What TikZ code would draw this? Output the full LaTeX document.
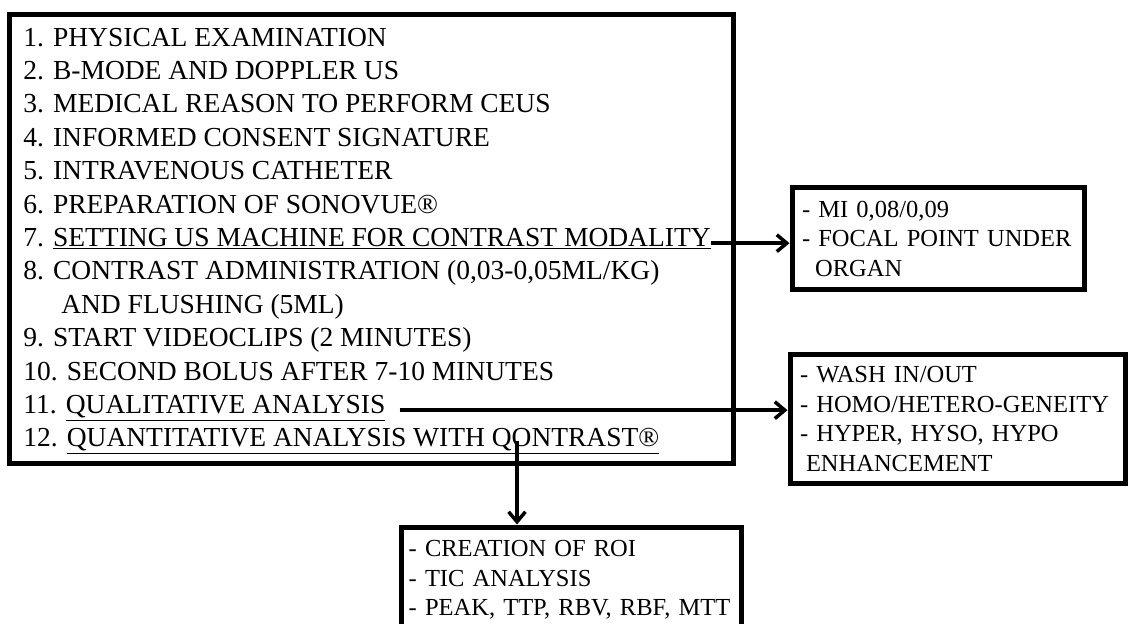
\documentclass[tikz,border=0pt]{standalone}
\usepackage{fontspec}
\setmainfont{Liberation Serif}
\usetikzlibrary{arrows.meta}
\tikzset{
  stepline/.style={anchor=base west, inner sep=0pt, font=\fontsize{19.56}{23.76}\selectfont},
  stepframe/.style={draw, rectangle, line width=0.125cm, inner sep=0pt},
  infobox/.style={draw, rectangle, line width=0.125cm, inner xsep=0.25cm, inner ysep=0.1cm,
    align=left, font=\fontsize{17.43}{20.98}\selectfont},
  steparrow/.style={-{Straight Barb[length=0.25cm, width=0.42cm]}, line width=0.0875cm},
}

\begin{document}
\begin{tikzpicture}
  \path[use as bounding box, clip] (0,0) rectangle (28.25,-15.575);

  \node[stepframe, minimum width=18.1cm, minimum height=11.225cm] (steps) at (9.2875,-5.98) {};

  \node[stepline] (l1) at (0.575,-1.15) {1. PHYSICAL EXAMINATION};
  \node[stepline] (l2) at (0.575,-1.985) {2. B-MODE AND DOPPLER US};
  \node[stepline] (l3) at (0.575,-2.82) {3. MEDICAL REASON TO PERFORM CEUS};
  \node[stepline] (l4) at (0.575,-3.655) {4. INFORMED CONSENT SIGNATURE};
  \node[stepline] (l5) at (0.575,-4.49) {5. INTRAVENOUS CATHETER};
  \node[stepline] (l6) at (0.575,-5.325) {6. PREPARATION OF SONOVUE®};
  \node[stepline] (l7) at (0.575,-6.16) {7. \underline{SETTING US MACHINE FOR CONTRAST MODALITY}};
  \node[stepline] (l8) at (0.575,-6.995) {8. CONTRAST ADMINISTRATION (0,03-0,05ML/KG)};
  \node[stepline] (l8b) at (1.525,-7.83) {AND FLUSHING (5ML)};
  \node[stepline] (l9) at (0.575,-8.665) {9. START VIDEOCLIPS (2 MINUTES)};
  \node[stepline] (l10) at (0.575,-9.5) {10. SECOND BOLUS AFTER 7-10 MINUTES};
  \node[stepline] (l11) at (0.575,-10.335) {11. \underline{QUALITATIVE ANALYSIS}};
  \node[stepline] (l12) at (0.575,-11.17) {12. \underline{QUANTITATIVE ANALYSIS WITH QONTRAST®}};

  \node[infobox, text width=6.8cm, minimum height=2.55cm] (mibox) at (23.45,-5.9625)
    {- MI 0,08/0,09\\- FOCAL POINT UNDER\\\hspace*{0.33cm}ORGAN};
  \node[infobox, text width=7.875cm, minimum height=3.2375cm] (qualbox) at (23.9375,-10.48)
    {- WASH IN/OUT\\- HOMO/\mbox{HETERO-GENEITY}\\- HYPER, HYSO, HYPO\\\hspace*{0.15cm}ENHANCEMENT};
  \node[infobox, inner xsep=0.18cm, text width=8.14cm, minimum height=2.65cm] (quantbox) at (14.2875,-14.5)
    {- CREATION OF ROI\\- TIC ANALYSIS\\- PEAK, TTP, RBV, RBF, MTT};

  \draw[steparrow] (l7.mid east) -- (l7.mid east -| mibox.west);
  \draw[steparrow, shorten <=0.35cm] (l11.mid east) -- (l11.mid east -| qualbox.west);
  \coordinate (qon) at ([xshift=12.35cm, yshift=0.15cm]l12.base west);
  \draw[steparrow] (qon) -- (qon |- quantbox.north);
\end{tikzpicture}
\end{document}
